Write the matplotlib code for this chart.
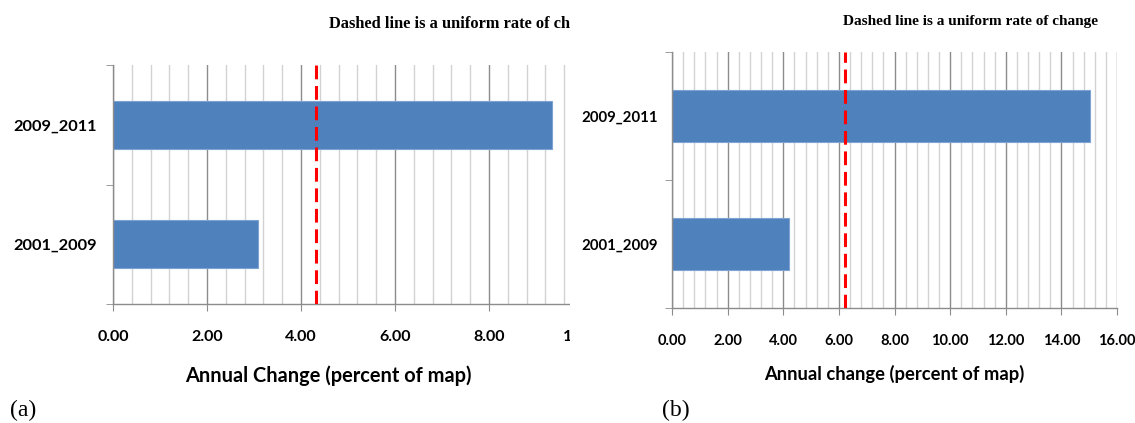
import matplotlib
matplotlib.use("Agg")
import matplotlib.pyplot as plt
from matplotlib.ticker import MultipleLocator, FixedLocator
from matplotlib.patches import Rectangle

categories = ["2001_2009", "2009_2011"]
change_a = [3.09, 9.34]
change_b = [4.20, 15.02]
uniform_a = 4.31
uniform_b = 6.23
ticks_a = [0, 2, 4, 6, 8, 10]
ticks_b = [0, 2, 4, 6, 8, 10, 12, 14, 16]
xlabel_a = "Annual Change (percent of map)"
xlabel_b = "Annual change (percent of map)"
title_text = "Dashed line is a uniform rate of change"

BAR = "#4f81bd"
MAJ = "#8c8c8c"
MIN = "#d2d2d2"
SANS = "Lato"
SERIF = "Liberation Serif"

fig = plt.figure(figsize=(11.35, 4.23), dpi=100)
W, H = 1135, 423

def fx(px):
    return px / W

def fy(py):
    return 1 - py / H

def style(ax, xmax, ticks, tick_fs, ylab_fs, ypad):
    y = list(range(len(categories)))
    ax.set_axisbelow(True)
    ax.set_xlim(0, xmax)
    ax.set_ylim(-0.5, len(categories) - 0.5)
    ax.xaxis.set_major_locator(FixedLocator(ticks))
    ax.xaxis.set_minor_locator(MultipleLocator(0.4))
    ax.set_xticklabels([f"{t:.2f}" for t in ticks], fontsize=tick_fs,
                       fontweight="bold", family=SANS)
    ax.grid(True, which="major", axis="x", color=MAJ, lw=1.0)
    ax.grid(True, which="minor", axis="x", color=MIN, lw=1.0)
    ax.set_yticks(y)
    ax.set_yticklabels(categories, fontsize=ylab_fs, fontweight="bold", family=SANS)
    ax.yaxis.set_minor_locator(FixedLocator([-0.5, 0.5, 1.5]))
    ax.tick_params(axis="y", which="major", length=0, pad=ypad)
    ax.tick_params(axis="y", which="minor", length=5, color=MAJ, direction="out")
    ax.tick_params(axis="x", which="major", length=5, color=MAJ, direction="out", pad=14)
    ax.tick_params(axis="x", which="minor", length=0)
    for s in ["top", "right"]:
        ax.spines[s].set_visible(False)
    for s in ["left", "bottom"]:
        ax.spines[s].set_color(MAJ)
        ax.spines[s].set_linewidth(1.0)

# Panel (a)
ax1 = fig.add_axes([fx(113), fy(304), fx(583) - fx(113), fy(65) - fy(304)])
ax1.barh(range(len(categories)), change_a, height=0.4, color=BAR,
         edgecolor="#7da3d3", lw=0.8, zorder=2)
ax1.axvline(uniform_a, color="#ff0000", lw=2.2, ls=(0, (4.5, 2.2)), zorder=3)
style(ax1, 10, ticks_a, 11.5, 11.8, 11.5)
ax1.set_xlabel(xlabel_a, fontsize=14.4, fontweight="bold", family=SANS)
ax1.xaxis.set_label_coords((328 - 113) / 470, -(376 - 304) / 239, transform=ax1.transAxes)
ax1.xaxis.label.set_va("center")
ax1.set_zorder(0)
fig.text(fx(329), fy(24), title_text, fontsize=11.8, fontweight="bold",
         family=SERIF, va="center", ha="left", zorder=0.5)

# crop mask for panel (a)
fig.add_artist(Rectangle((fx(570), 0), 1 - fx(570), 1, transform=fig.transFigure,
                         facecolor="white", edgecolor="none", zorder=1))

# Panel (b)
ax2 = fig.add_axes([fx(672), fy(308), fx(1117) - fx(672), fy(52) - fy(308)])
ax2.barh(range(len(categories)), change_b, height=0.4, color=BAR,
         edgecolor="#7da3d3", lw=0.8, zorder=2)
ax2.axvline(uniform_b, color="#ff0000", lw=2.2, ls=(0, (4.5, 2.2)), zorder=3)
style(ax2, 16, ticks_b, 10.5, 10.8, 10)
ax2.set_xlabel(xlabel_b, fontsize=13.2, fontweight="bold", family=SANS)
ax2.xaxis.set_label_coords(0.5, -(374 - 308) / 256, transform=ax2.transAxes)
ax2.xaxis.label.set_va("center")
ax2.set_zorder(2)
fig.text(fx(843), fy(21), title_text, fontsize=11, fontweight="bold",
         family=SERIF, va="center", ha="left", zorder=3)

fig.text(fx(10), fy(410), "(a)", fontsize=17, family=SERIF, va="center", ha="left", zorder=3)
fig.text(fx(662), fy(410), "(b)", fontsize=17, family=SERIF, va="center", ha="left", zorder=3)

fig.savefig("out.png", dpi=100, facecolor="white")
